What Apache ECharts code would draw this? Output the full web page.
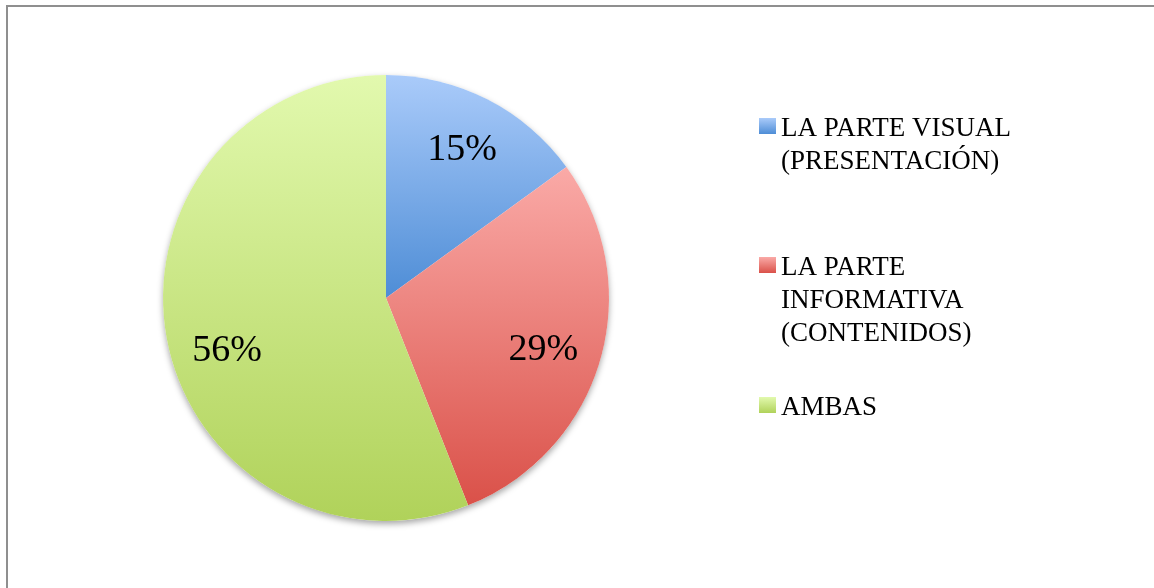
<!DOCTYPE html>
<html>
<head>
<meta charset="utf-8">
<script src="https://cdn.jsdelivr.net/npm/echarts@6/dist/echarts.min.js"></script>
<style>
  html, body { margin: 0; padding: 0; background: #ffffff; }
  #chart { width: 1154px; height: 588px; }
</style>
</head>
<body>
<div id="chart"></div>
<script>
const categories = ['LA PARTE VISUAL\n(PRESENTACIÓN)', 'LA PARTE\nINFORMATIVA\n(CONTENIDOS)', 'AMBAS'];
const values = [15, 29, 56];
const lightColors = ['#aacbfa', '#faaaa7', '#e2f9ae'];
const darkColors = ['#4e8dd6', '#da5149', '#b0d25a'];

const FONT = '"Liberation Serif", "Times New Roman", serif';
const LH = 33;
const labelOffsets = [[-1, 3], [-6, 5], [8, 21]];

function grad(i) {
  return {
    type: 'linear', x: 0, y: 0, x2: 0, y2: 1,
    colorStops: [{ offset: 0, color: lightColors[i] }, { offset: 1, color: darkColors[i] }]
  };
}

const total = values.reduce((a, b) => a + b, 0);
const legendTops = [73.5, 179.5, 385.5];

const legends = categories.map((name, i) => {
  const n = name.split('\n').length;
  return {
    orient: 'vertical',
    left: 759,
    top: legendTops[i],
    padding: 0,
    itemWidth: 17,
    itemHeight: 16,
    icon: 'rect',
    selectedMode: false,
    formatter: (nm) => '{s| }\n' + '{t| }\n'.repeat(n - 1) + nm.split('\n').map(l => '{t|' + l + '}').join('\n'),
    textStyle: {
      fontFamily: FONT, fontSize: 27, color: '#000', lineHeight: LH,
      rich: {
        s: { fontSize: 6, lineHeight: 6, fontFamily: FONT },
        t: { fontSize: 27, lineHeight: LH, fontFamily: FONT, color: '#000' }
      }
    },
    data: [{ name: name, itemStyle: { color: grad(i) } }]
  };
});

const chart = echarts.init(document.getElementById('chart'), null, { renderer: 'canvas' });
chart.setOption({
  backgroundColor: '#ffffff',
  animation: false,
  legend: legends,
  graphic: [{
    type: 'rect',
    shape: { x: 7, y: 6, width: 1200, height: 700 },
    style: { fill: 'none', stroke: '#8f8f8f', lineWidth: 2 },
    silent: true, z: -10
  }],
  series: [
    {
      type: 'pie',
      center: [386, 298],
      radius: [0, 223],
      startAngle: 90,
      silent: true,
      z: 1,
      label: { show: false },
      labelLine: { show: false },
      itemStyle: {
        color: '#ffffff',
        shadowBlur: 6, shadowOffsetY: 3, shadowColor: 'rgba(0,0,0,0.35)'
      },
      data: [{ name: '_shadow', value: total }]
    },
    {
      type: 'pie',
      center: [386, 298],
      radius: [0, 223],
      startAngle: 90,
      clockwise: true,
      silent: true,
      z: 2,
      label: { show: false },
      labelLine: { show: false },
      itemStyle: { borderWidth: 0 },
      data: categories.map((name, i) => ({ name: name, value: values[i], itemStyle: { color: grad(i) } }))
    },
    {
      type: 'pie',
      center: [386, 298],
      radius: [111, 223],
      startAngle: 90,
      clockwise: true,
      silent: true,
      z: 3,
      itemStyle: { color: 'rgba(0,0,0,0)' },
      label: {
        show: true, position: 'inside', formatter: '{c}%',
        fontFamily: FONT, fontSize: 38, color: '#000'
      },
      labelLine: { show: false },
      data: categories.map((name, i) => ({ name: name, value: values[i], label: { offset: labelOffsets[i] } }))
    }
  ]
});
</script>
</body>
</html>
